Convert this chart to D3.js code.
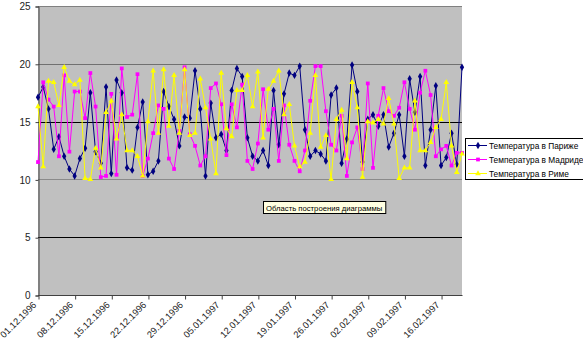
<!DOCTYPE html>
<html><head><meta charset="utf-8">
<script src="https://cdn.jsdelivr.net/npm/d3@7"></script>
<style>body{margin:0;background:#fff}svg{display:block}text{font-family:"Liberation Sans",Arial,sans-serif}</style>
</head><body><svg id="c" width="583" height="341"></svg>
<script>
const startDate = "01.12.1996";
const seriesNames = ["Температура в Париже","Температура в Мадриде","Температура в Риме"];
const paris = [17.1,18.0,16.1,12.6,13.7,12.0,10.9,10.3,11.8,12.7,17.5,12.4,11.4,18.0,10.5,18.6,17.5,11.0,10.8,14.5,16.7,10.4,10.7,11.6,17.6,16.3,15.2,12.9,15.4,15.3,19.4,16.1,10.3,16.6,13.6,13.9,12.5,17.7,19.6,18.9,13.6,12.0,11.6,12.5,11.2,17.7,13.0,17.4,19.2,19.0,19.8,14.3,12.0,12.5,12.2,11.6,17.3,17.9,11.4,13.5,19.9,17.6,11.5,15.2,15.6,14.6,15.6,12.8,14.0,15.6,12.0,18.7,15.8,18.9,11.2,14.3,18.1,11.2,11.9,14.0,11.3,19.7];
const madrid = [11.5,18.4,16.9,16.3,12.0,19.0,12.4,17.6,17.6,15.3,19.2,16.3,10.2,10.3,17.4,10.4,19.6,15.4,15.6,19.1,10.3,11.8,14.0,16.4,16.1,11.8,10.9,14.2,19.7,13.9,12.9,11.2,12.0,17.9,18.3,16.5,12.1,16.5,14.5,18.2,11.6,10.9,13.1,17.8,14.3,16.1,11.6,16.4,13.0,11.6,10.7,12.5,16.8,19.8,19.8,15.9,13.0,12.5,15.5,10.3,13.2,14.5,10.9,18.3,11.0,15.5,17.9,15.9,15.5,16.2,18.4,16.1,14.3,17.5,19.4,17.3,12.0,12.6,12.9,11.2,12.3,12.3];
const rome = [16.3,11.1,18.5,18.4,16.4,19.7,18.5,18.2,18.6,10.1,10.0,12.7,11.0,15.8,16.8,13.5,15.6,12.5,12.5,12.0,10.3,15.0,19.4,14.0,19.5,14.6,19.0,14.0,19.5,13.8,14.0,18.7,16.2,13.5,10.5,19.2,14.4,13.7,17.7,17.7,19.0,16.3,19.3,13.6,17.8,18.5,19.4,15.6,16.5,12.9,11.1,11.5,14.0,19.0,12.8,13.8,10.0,15.2,16.0,11.8,18.4,16.2,10.2,15.0,14.9,15.2,14.8,17.0,14.8,10.1,11.0,11.0,16.8,12.5,12.5,13.2,14.5,15.2,18.4,12.9,10.6,12.2];
const yTicks = [0,5,10,15,20,25];
const tooltipText = "Область построения диаграммы";

const parse = d3.timeParse("%d.%m.%Y");
const fmt = d3.timeFormat("%d.%m.%Y");
const t0 = parse(startDate);
const dates = paris.map((_, i) => d3.timeDay.offset(t0, i));

const svg = d3.select("#c");
const L = 38, R = 462, T = 6, B = 295;
const x = d3.scaleTime().domain([dates[0], dates[dates.length - 1]]).range([L, R]);
const y = d3.scaleLinear().domain([0, 25]).range([B, T]);

svg.append("rect").attr("x", L).attr("y", T).attr("width", R - L).attr("height", B - T).attr("fill", "#c0c0c0");

// gridlines
const gridColor = {25: "#808080", 20: "#707070", 15: "#000", 10: "#8a8a8a", 5: "#000"};
svg.append("g").selectAll("line").data(yTicks.filter(v => v > 0)).join("line")
  .attr("x1", L).attr("x2", R).attr("y1", d => Math.round(y(d)) + 0.5).attr("y2", d => Math.round(y(d)) + 0.5)
  .attr("stroke", d => gridColor[d]).attr("stroke-width", 1);

// y axis
const yAxis = d3.axisLeft(y).tickValues(yTicks).tickSize(3).tickPadding(5).tickFormat(d3.format("d"));
const gy = svg.append("g").attr("transform", `translate(${L + 0.5},0.5)`).call(yAxis);
gy.select(".domain").attr("stroke", "#404040");
gy.selectAll(".tick line").attr("stroke", "#404040");
gy.selectAll("text").attr("font-size", 10).attr("fill", "#222");

// x axis
const tickDates = d3.range(0, dates.length, 7).map(i => dates[i]);
const xAxis = d3.axisBottom(x).tickValues(tickDates).tickSize(4).tickFormat(fmt);
const gx = svg.append("g").attr("transform", `translate(0.5,${B + 0.5})`).call(xAxis);
gx.select(".domain").attr("stroke", "#404040").attr("d", `M${L - 0.5},0H${R}`);
gx.selectAll(".tick line").attr("stroke", "#404040");
gx.selectAll("text").attr("font-size", 9.3).attr("fill", "#222")
  .attr("text-anchor", "end").attr("dy", null).attr("y", 0)
  .attr("transform", "translate(-2,10) rotate(-45)");

// series
const series = [
  {name: seriesNames[0], values: paris, color: "#000080", marker: "diamond"},
  {name: seriesNames[1], values: madrid, color: "#ff00ff", marker: "square"},
  {name: seriesNames[2], values: rome, color: "#ffff00", marker: "triangle"}
];
const sym = {diamond: d3.symbol().type(d3.symbolDiamond).size(16),
             square: d3.symbol().type(d3.symbolSquare).size(14),
             triangle: d3.symbol().type(d3.symbolTriangle).size(14)};
const line = d3.line().x((d, i) => x(dates[i])).y(d => y(d));
series.forEach(s => {
  const g = svg.append("g");
  g.append("path").attr("d", line(s.values)).attr("fill", "none").attr("stroke", s.color).attr("stroke-width", 1);
  g.selectAll("path.m").data(s.values).join("path").attr("class", "m")
    .attr("transform", (d, i) => `translate(${x(dates[i])},${y(d)})`)
    .attr("d", sym[s.marker]()).attr("fill", s.color);
});

// legend
const lg = svg.append("g");
lg.append("rect").attr("x", 465.5).attr("y", 138.5).attr("width", 130).attr("height", 41)
  .attr("fill", "#fff").attr("stroke", "#000");
series.forEach((s, i) => {
  const yy = 145.5 + i * 14;
  lg.append("line").attr("x1", 468).attr("x2", 487).attr("y1", yy).attr("y2", yy).attr("stroke", s.color);
  lg.append("path").attr("transform", `translate(478,${yy})`).attr("d", sym[s.marker]()).attr("fill", s.color);
  lg.append("text").attr("x", 489).attr("y", yy + 3.2).attr("font-size", 8.3).attr("fill", "#000").text(s.name);
});

// tooltip
const tg = svg.append("g");
const tt = tg.append("text").attr("x", 266).attr("y", 210.5).attr("font-size", 7.7).attr("fill", "#000").text(tooltipText);
const bb = tt.node().getBBox();
tg.insert("rect", "text").attr("x", 263.5).attr("y", 201.5).attr("width", bb.width + 6).attr("height", 12)
  .attr("fill", "#ffffe1").attr("stroke", "#000");
</script></body></html>
